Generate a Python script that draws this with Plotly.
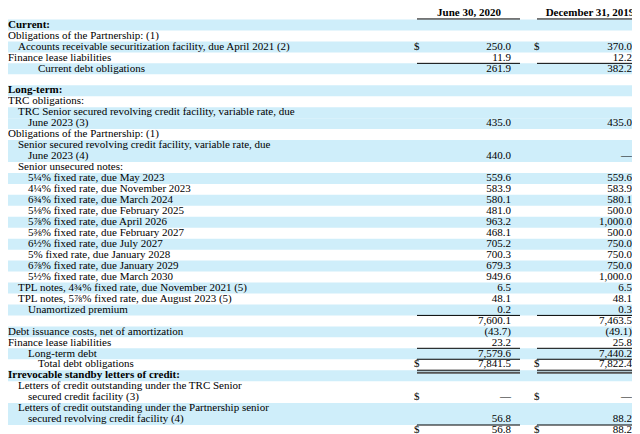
import plotly.graph_objects as go

labels = ["Current:", "Obligations of the Partnership: (1)",
 "Accounts receivable securitization facility, due April 2021 (2)", "Finance lease liabilities",
 "Current debt obligations", "", "Long-term:", "TRC obligations:",
 "TRC Senior secured revolving credit facility, variable rate, due", "June 2023 (3)",
 "Obligations of the Partnership: (1)", "Senior secured revolving credit facility, variable rate, due", "June 2023 (4)",
 "Senior unsecured notes:",
 "5¼% fixed rate, due May 2023", "4¼% fixed rate, due November 2023", "6¾% fixed rate, due March 2024",
 "5⅛% fixed rate, due February 2025", "5⅞% fixed rate, due April 2026", "5⅜% fixed rate, due February 2027",
 "6½% fixed rate, due July 2027", "5% fixed rate, due January 2028", "6⅞% fixed rate, due January 2029",
 "5½% fixed rate, due March 2030", "TPL notes, 4¾% fixed rate, due November 2021 (5)",
 "TPL notes, 5⅞% fixed rate, due August 2023 (5)", "Unamortized premium", "",
 "Debt issuance costs, net of amortization", "Finance lease liabilities", "Long-term debt",
 "Total debt obligations", "Irrevocable standby letters of credit:",
 "Letters of credit outstanding under the TRC Senior", "secured credit facility (3)",
 "Letters of credit outstanding under the Partnership senior", "secured revolving credit facility (4)", ""]
indent = [0,0,1,0,3,0,0,0,1,2,0,1,2,1]+[2]*10+[1,1,2,0,0,0,2,3,0,1,2,1,2,0]
bold = [0]*len(labels); bold[0]=bold[6]=bold[32]=1
june = ["","","250.0","11.9","261.9","","","","","435.0","","","440.0",""]+["559.6","583.9","580.1","481.0","963.2","468.1","705.2","700.3","679.3","949.6"]+["6.5","48.1","0.2","7,600.1","(43.7)","23.2","7,579.6","7,841.5","","","—","","56.8","56.8"]
dec = ["","","370.0","12.2","382.2","","","","","435.0","","","—",""]+["559.6","583.9","580.1","500.0","1,000.0","500.0","750.0","750.0","750.0","1,000.0"]+["6.5","48.1","0.3","7,463.5","(49.1)","25.8","7,440.2","7,822.4","","","—","","88.2","88.2"]
dollar_rows = [2,31,34,37]
blue_rows = [0,2,4,6,8,9,11,12,14,16,18,20,22,24,26,28,30,32,35,36]
n = len(labels)
rows = list(range(n))
F = dict(family="Liberation Serif, Times New Roman, serif", size=11, color="#000")

fig = go.Figure()
lab = ["<b>%s</b>" % l if b else l for l, b in zip(labels, bold)]
common = dict(mode="text", textfont=F, hoverinfo="skip", cliponaxis=False)
fig.add_trace(go.Scatter(x=[i*10 for i in indent], y=rows, text=lab, textposition="middle right", **common))
fig.add_trace(go.Scatter(x=[503]*n, y=rows, text=june, textposition="middle left", **common))
fig.add_trace(go.Scatter(x=[624]*n, y=rows, text=dec, textposition="middle left", **common))
fig.add_trace(go.Scatter(x=[406]*len(dollar_rows)+[526]*len(dollar_rows), y=dollar_rows*2, text=["$"]*8,
    textposition="middle right", **common))
fig.add_trace(go.Scatter(x=[461, 582], y=[-1.1, -1.1], text=["<b>June 30, 2020</b>", "<b>December 31, 2019</b>"],
    textposition="middle center", **common))

shapes = []
for r in blue_rows:
    shapes.append(dict(type="rect", x0=0, x1=637, y0=r-0.5, y1=r+0.5, fillcolor="#cfeefa", line_width=0, layer="below"))
def hline(y, w=1, col="#000"):
    for a, b in [(409, 512), (529, 635)]:
        shapes.append(dict(type="line", x0=a, x1=b, y0=y, y1=y, line=dict(color=col, width=w)))
hline(-0.55)
for y in [3.5, 26.5, 29.5, 30.5, 36.5]:
    hline(y)
for y in [31.5, 37.5]:
    hline(y, 1); hline(y+0.22, 2, "#555")
fig.update_layout(shapes=shapes, width=640, height=434, margin=dict(l=0, r=0, t=0, b=0),
    plot_bgcolor="white", paper_bgcolor="white", showlegend=False,
    xaxis=dict(range=[0, 640], visible=False, fixedrange=True),
    yaxis=dict(range=[38.05, -1.55], visible=False, fixedrange=True))
fig.write_html("out.html")
